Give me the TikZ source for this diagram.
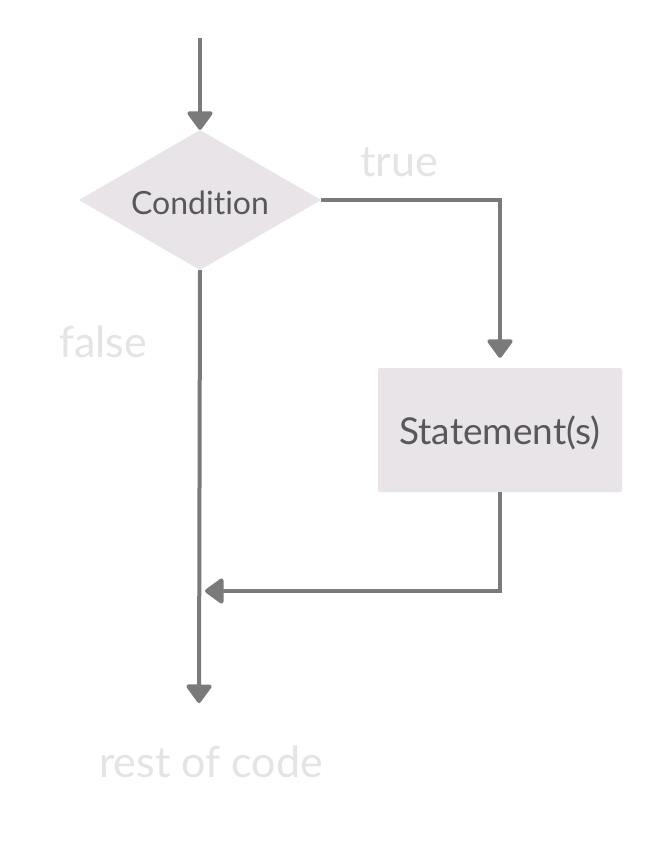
\documentclass[tikz,border=0pt]{standalone}
\usepackage{fontspec}
\setmainfont{Lato}[Ligatures={NoCommon}]
\usetikzlibrary{arrows.meta,shapes.geometric}
\definecolor{boxfill}{RGB}{232,228,232}
\definecolor{linegray}{RGB}{122,122,122}
\definecolor{nodetext}{RGB}{88,88,88}
\definecolor{labeltext}{RGB}{228,228,228}
% pad the top of a label so that it sits a little below the shape's centre
\newcommand{\lowered}[1]{\raisebox{0pt}[\dimexpr\height+6pt\relax]{#1}}
\begin{document}
\begin{tikzpicture}[x=1pt,y=-1pt,
  arr/.style={draw=linegray,line width=4pt,
    -{Triangle[length=20pt,width=28pt,round]}},
  decision/.style={diamond,aspect=1.73,fill=boxfill,inner sep=0pt,
    minimum width=242pt,minimum height=140pt,
    text=nodetext,font=\fontsize{32}{38}\selectfont},
  process/.style={rectangle,rounded corners=2pt,fill=boxfill,
    minimum width=244pt,minimum height=124pt,
    text=nodetext,font=\fontsize{37}{44}\selectfont},
  branchlabel/.style={text=labeltext,font=\fontsize{43}{50}\selectfont}]
  \useasboundingbox (0,0) rectangle (660,850);
  \fill[white] (0,0) rectangle (660,850);

  % shapes
  \node[decision] (cond) at (200,200) {\lowered{Condition}};
  \node[process] (stmt) at (500,430) {\lowered{Statement(s)}};

  % free ends of connectors
  \coordinate (start) at (200,38);
  \coordinate (merge) at (205,591);
  \coordinate (finish) at (199,703);

  % connectors
  \draw[arr] (start) -- (cond.north);
  \draw[arr,shorten >=10pt] (cond.east) -| (stmt.north);
  \draw[arr] (stmt.south) |- (merge);
  \draw[arr] (cond.south) -- (finish);

  % branch labels
  \node[branchlabel] (truelbl) at (399,162) {true};
  \node[branchlabel] (falselbl) at (103,342) {false};
  \node[branchlabel] (restlbl) at (211,762) {rest of code};
\end{tikzpicture}
\end{document}
